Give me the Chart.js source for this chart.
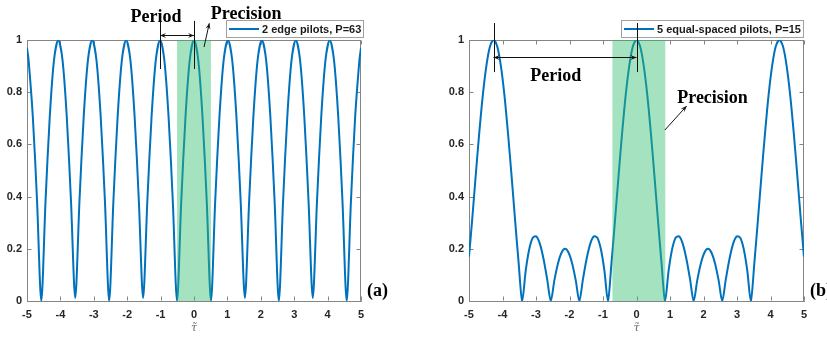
<!DOCTYPE html>
<html>
<head>
<meta charset="utf-8">
<script src="https://cdn.jsdelivr.net/npm/chart.js@4.4.0/dist/chart.umd.min.js"></script>
<style>
  body { margin: 0; background: #fff; }
  #wrap { position: relative; width: 827px; height: 337px; overflow: hidden; }
  canvas { position: absolute; top: 0; }
  #left { left: 0; }
  #right { left: 414px; }
</style>
</head>
<body>
<div id="wrap">
  <canvas id="left" width="413" height="337"></canvas>
  <canvas id="right" width="413" height="337"></canvas>
</div>
<script>
// axis ticks (same on both panels)
const xTicks = [-5, -4, -3, -2, -1, 0, 1, 2, 3, 4, 5];
const yTicks = [0, 0.2, 0.4, 0.6, 0.8, 1];
const yTickLabels = ['0', '0.2', '0.4', '0.6', '0.8', '1'];

// (a) 2 edge pilots, P=63
const tauA = [
  -5,
  -4.953, -4.826, -4.699, -4.572, -4.445, -4.318, -4.191, -4.064,
  -3.937, -3.81, -3.683, -3.556, -3.429, -3.302, -3.175, -3.048,
  -2.921, -2.794, -2.667, -2.54, -2.413, -2.286, -2.159, -2.032,
  -1.905, -1.778, -1.651, -1.524, -1.397, -1.27, -1.143, -1.016,
  -0.889, -0.762, -0.635, -0.508, -0.381, -0.254, -0.127, 0,
  0.127, 0.254, 0.381, 0.508, 0.635, 0.762, 0.889, 1.016,
  1.143, 1.27, 1.397, 1.524, 1.651, 1.778, 1.905, 2.032,
  2.159, 2.286, 2.413, 2.54, 2.667, 2.794, 2.921, 3.048,
  3.175, 3.302, 3.429, 3.556, 3.683, 3.81, 3.937, 4.064,
  4.191, 4.318, 4.445, 4.572, 4.699, 4.826, 4.953,
  5
];
const ambA = [
  0.97,
  0.924, 0.707, 0.383, 0, 0.383, 0.707, 0.924, 1,
  0.924, 0.707, 0.383, 0.012, 0.383, 0.707, 0.924, 1,
  0.924, 0.707, 0.383, 0, 0.383, 0.707, 0.924, 1,
  0.924, 0.707, 0.383, 0.012, 0.383, 0.707, 0.924, 1,
  0.924, 0.707, 0.383, 0, 0.383, 0.707, 0.924, 1,
  0.924, 0.707, 0.383, 0, 0.383, 0.707, 0.924, 1,
  0.924, 0.707, 0.383, 0.012, 0.383, 0.707, 0.924, 1,
  0.924, 0.707, 0.383, 0, 0.383, 0.707, 0.924, 1,
  0.924, 0.707, 0.383, 0.012, 0.383, 0.707, 0.924, 1,
  0.924, 0.707, 0.383, 0, 0.383, 0.707, 0.924,
  0.97
];

// (b) 5 equal-spaced pilots, P=15
const tauB = [
  -5,
  -4.905, -4.798, -4.692, -4.585, -4.478, -4.372, -4.265,
  -4.158, -4.052, -3.945, -3.839, -3.732, -3.625, -3.519, -3.412,
  -3.305, -3.199, -3.092, -2.986, -2.879, -2.772, -2.666, -2.559,
  -2.452, -2.346, -2.239, -2.133, -2.026, -1.919, -1.813, -1.706,
  -1.599, -1.493, -1.386, -1.28, -1.173, -1.066, -0.96, -0.853,
  -0.746, -0.64, -0.533, -0.427, -0.32, -0.213, -0.107, 0,
  0.107, 0.213, 0.32, 0.427, 0.533, 0.64, 0.746, 0.853,
  0.96, 1.066, 1.173, 1.28, 1.386, 1.493, 1.599, 1.706,
  1.813, 1.919, 2.026, 2.133, 2.239, 2.346, 2.452, 2.559,
  2.666, 2.772, 2.879, 2.986, 3.092, 3.199, 3.305, 3.412,
  3.519, 3.625, 3.732, 3.839, 3.945, 4.052, 4.158, 4.265,
  4.372, 4.478, 4.585, 4.692, 4.798, 4.905,
  5
];
const ambB = [
  0.17,
  0.312, 0.483, 0.647, 0.792, 0.904, 0.976, 1,
  0.976, 0.904, 0.792, 0.647, 0.483, 0.312, 0.147, 0,
  0.118, 0.2, 0.243, 0.247, 0.217, 0.159, 0.083, 0,
  0.079, 0.143, 0.185, 0.2, 0.185, 0.143, 0.079, 0,
  0.083, 0.159, 0.217, 0.247, 0.243, 0.2, 0.118, 0,
  0.147, 0.312, 0.483, 0.647, 0.792, 0.904, 0.976, 1,
  0.976, 0.904, 0.792, 0.647, 0.483, 0.312, 0.147, 0,
  0.118, 0.2, 0.243, 0.247, 0.217, 0.159, 0.083, 0,
  0.079, 0.143, 0.185, 0.2, 0.185, 0.143, 0.079, 0,
  0.083, 0.159, 0.217, 0.247, 0.243, 0.2, 0.118, 0,
  0.147, 0.312, 0.483, 0.647, 0.792, 0.904, 0.976, 1,
  0.976, 0.904, 0.792, 0.647, 0.483, 0.312,
  0.17
];

// shaded "precision" window
const bandA = [-0.508, 0.508];
const bandB = [-0.72, 0.86];

const BLUE = '#0072BD';
const AXIS = '#858585';
const TICKFONT = { family: "'Liberation Sans', Arial, sans-serif", size: 11, weight: 'bold' };
const SERIF = "bold 18px 'Liberation Serif', 'Times New Roman', serif";

function arrowHead(ctx, fx, fy, tx, ty) {
  const a = Math.atan2(ty - fy, tx - fx);
  const len = 6, half = 2.5;
  ctx.beginPath();
  ctx.moveTo(tx, ty);
  ctx.lineTo(tx - len * Math.cos(a) + half * Math.sin(a), ty - len * Math.sin(a) - half * Math.cos(a));
  ctx.lineTo(tx - len * 0.6 * Math.cos(a), ty - len * 0.6 * Math.sin(a));
  ctx.lineTo(tx - len * Math.cos(a) - half * Math.sin(a), ty - len * Math.sin(a) + half * Math.cos(a));
  ctx.closePath();
  ctx.fill();
}

// top/right edges and inward tick marks (MATLAB-style box)
function drawBox(chart) {
  const { ctx, chartArea: a, scales: { x, y } } = chart;
  const L = Math.round(a.left) + 0.5, R = Math.round(a.right) - 0.5;
  const T = Math.round(a.top) + 0.5, B = Math.round(a.bottom) - 0.5;
  ctx.save();
  ctx.fillStyle = AXIS;
  ctx.fillRect(Math.round(a.left), Math.round(a.top), Math.round(a.right - a.left), 1);
  ctx.fillRect(Math.round(a.right) - 1, Math.round(a.top), 1, Math.round(a.bottom - a.top));
  ctx.strokeStyle = AXIS;
  ctx.lineWidth = 1;
  ctx.beginPath();
  for (const v of xTicks) {
    const q = Math.round(x.getPixelForValue(v)) + 0.5;
    ctx.moveTo(q, B); ctx.lineTo(q, B - 4);
    ctx.moveTo(q, T); ctx.lineTo(q, T + 4);
  }
  for (const v of yTicks) {
    const q = Math.round(y.getPixelForValue(v)) + 0.5;
    ctx.moveTo(L, q); ctx.lineTo(L + 4, q);
    ctx.moveTo(R, q); ctx.lineTo(R - 4, q);
  }
  ctx.stroke();
  ctx.restore();
}

function makeChart(id, xs, ys, label, deco) {
  const decoPlugin = {
    id: 'deco',
    beforeDatasetsDraw(chart) {
      drawBox(chart);
    },
    afterDatasetsDraw(chart) {
      const { ctx, chartArea: a, scales: { x } } = chart;
      const x1 = x.getPixelForValue(deco.band[0]);
      const x2 = x.getPixelForValue(deco.band[1]);
      ctx.save();
      ctx.fillStyle = 'rgba(46,190,110,0.43)';
      ctx.fillRect(x1, a.top, x2 - x1, a.bottom - a.top);
      ctx.restore();
    },
    afterDraw(chart) {
      const { ctx, chartArea: a, scales: { x, y } } = chart;
      const px = v => x.getPixelForValue(v);
      const py = v => y.getPixelForValue(v);
      ctx.save();

      // legend
      ctx.font = "bold 11px 'Liberation Sans', Arial, sans-serif";
      const tw = ctx.measureText(label).width;
      const right = Math.round(a.right + deco.legendShift);
      const left = Math.round(right - tw - 38);
      ctx.fillStyle = '#fff';
      ctx.fillRect(left, 20, right - left, 17);
      ctx.strokeStyle = '#a0a0a0';
      ctx.lineWidth = 1;
      ctx.strokeRect(left + 0.5, 20.5, right - left, 17);
      ctx.strokeStyle = BLUE;
      ctx.lineWidth = 2;
      ctx.beginPath();
      ctx.moveTo(left + 3, 29); ctx.lineTo(left + 33, 29);
      ctx.stroke();
      ctx.fillStyle = '#1a1a1a';
      ctx.textBaseline = 'middle';
      ctx.textAlign = 'left';
      ctx.fillText(label, left + 36, 29.5);

      // period markers
      const pr = deco.period;
      ctx.strokeStyle = '#111';
      ctx.fillStyle = '#111';
      ctx.lineWidth = 1;
      ctx.beginPath();
      ctx.moveTo(Math.round(px(pr.x1)) + 0.5, py(pr.top1)); ctx.lineTo(Math.round(px(pr.x1)) + 0.5, py(pr.bottom));
      ctx.moveTo(Math.round(px(pr.x2)) + 0.5, py(pr.top2)); ctx.lineTo(Math.round(px(pr.x2)) + 0.5, py(pr.bottom));
      const ay = Math.round(py(pr.arrowY)) + 0.5;
      ctx.moveTo(px(pr.x1), ay); ctx.lineTo(px(pr.x2), ay);
      ctx.stroke();
      arrowHead(ctx, px(pr.x2), ay, px(pr.x1), ay);
      arrowHead(ctx, px(pr.x1), ay, px(pr.x2), ay);

      // precision arrow
      const pc = deco.precision;
      ctx.beginPath();
      ctx.moveTo(px(pc.from[0]), py(pc.from[1]));
      ctx.lineTo(px(pc.to[0]), py(pc.to[1]));
      ctx.stroke();
      arrowHead(ctx, px(pc.from[0]), py(pc.from[1]), px(pc.to[0]), py(pc.to[1]));

      // labels
      ctx.font = SERIF;
      ctx.textAlign = 'center';
      ctx.textBaseline = 'alphabetic';
      ctx.fillStyle = '#000';
      ctx.fillText('Period', px(pr.textX), py(pr.textY));
      ctx.fillText('Precision', px(pc.textX), py(pc.textY));
      ctx.textAlign = 'left';
      ctx.fillText(deco.tag, a.right + 6, a.bottom - 5);
      ctx.restore();
    }
  };

  return new Chart(document.getElementById(id), {
    type: 'line',
    data: {
      labels: xs,
      datasets: [{
        label: label,
        data: ys,
        borderColor: BLUE,
        borderWidth: 2,
        pointRadius: 0,
        tension: 0.3,
        fill: false
      }]
    },
    options: {
      responsive: false,
      animation: false,
      devicePixelRatio: 1,
      layout: { padding: deco.padding },
      plugins: { legend: { display: false }, tooltip: { enabled: false } },
      scales: {
        x: {
          type: 'linear',
          min: -5,
          max: 5,
          afterBuildTicks: s => { s.ticks = xTicks.map(v => ({ value: v })); },
          afterFit: s => { s.height = 36; },
          grid: { display: false, drawTicks: false },
          border: { display: true, color: AXIS, width: 1 },
          ticks: { font: TICKFONT, color: '#262626', padding: 7, maxRotation: 0, autoSkip: false,
                   callback: v => String(v) },
          title: { display: true, text: 'τ̃', color: '#666',
                   font: { family: "'DejaVu Serif', serif", size: 11, style: 'italic' },
                   padding: { top: 0, bottom: 2 } }
        },
        y: {
          min: 0,
          max: 1,
          afterBuildTicks: s => { s.ticks = yTicks.map(v => ({ value: v })); },
          afterFit: s => { s.width = 27; },
          grid: { display: false, drawTicks: false },
          border: { display: true, color: AXIS, width: 1 },
          ticks: { font: TICKFONT, color: '#262626', padding: 5,
                   callback: (v, i) => yTickLabels[i] }
        }
      }
    },
    plugins: [decoPlugin]
  });
}

makeChart('left', tauA, ambA, '2 edge pilots, P=63', {
  padding: { left: 0, top: 40, right: 52, bottom: 0 },
  band: bandA,
  legendShift: 2,
  tag: '(a)',
  period: { x1: -1.016, x2: 0, top1: 1.087, top2: 1.073, bottom: 0.889, arrowY: 1.019, textX: -1.14, textY: 1.069 },
  precision: { from: [0.30, 0.973], to: [0.458, 1.064], textX: 1.56, textY: 1.081 }
});

makeChart('right', tauB, ambB, '5 equal-spaced pilots, P=15', {
  padding: { left: 28, top: 40, right: 23, bottom: 0 },
  band: bandB,
  legendShift: -1,
  tag: '(b)',
  period: { x1: -4.265, x2: 0, top1: 1.065, top2: 1.065, bottom: 0.877, arrowY: 0.935, textX: -2.41, textY: 0.843 },
  precision: { from: [0.847, 0.655], to: [1.495, 0.747], textX: 2.27, textY: 0.758 }
});
</script>
</body>
</html>
